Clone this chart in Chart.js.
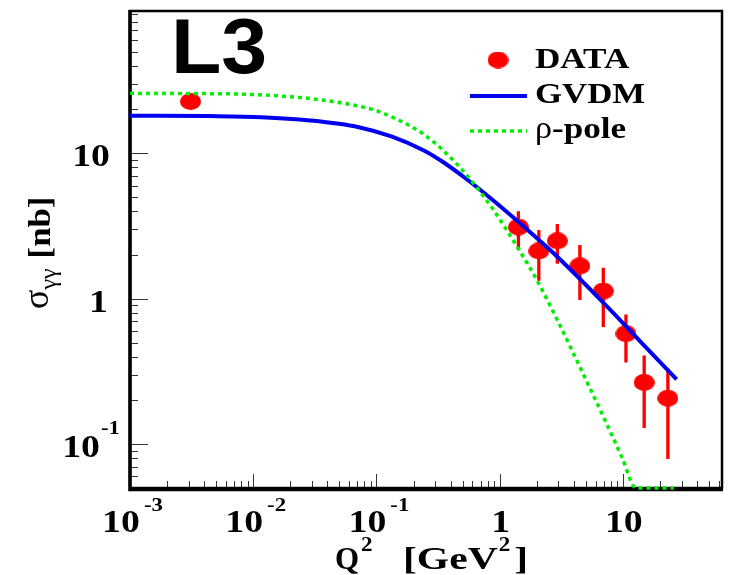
<!DOCTYPE html>
<html>
<head>
<meta charset="utf-8">
<script src="https://cdn.jsdelivr.net/npm/chart.js@4.4.1/dist/chart.umd.min.js"></script>
<style>
html, body { margin: 0; padding: 0; background: #fff; }
</style>
</head>
<body>
<canvas id="chart" width="734" height="575"></canvas>
<script>
// measured points (Q2 in GeV^2, sigma in nb)
var dataQ2 = [0.0031, 1.42, 2.08, 2.94, 4.48, 6.94, 10.6, 14.9, 23.2];
var dataSigma = [22.7, 3.11, 2.13, 2.50, 1.68, 1.13, 0.575, 0.266, 0.207];
var dataErrLow = [22.2, 2.20, 1.33, 1.74, 0.98, 0.64, 0.365, 0.129, 0.079];
var dataErrHigh = [23.2, 4.00, 2.97, 3.26, 2.34, 1.63, 0.78, 0.407, 0.332];

// GVDM curve
var gvdmQ2 = [0.001, 0.0044, 0.0116, 0.0288, 0.0719, 0.134, 0.245, 0.347, 0.528, 0.864, 1.58, 2.73, 7.20, 13.4, 27.3];
var gvdmSigma = [18.1, 18.0, 17.7, 16.8, 15.1, 13.0, 10.4, 8.70, 6.73, 4.83, 3.12, 2.06, 0.910, 0.524, 0.279];

// rho-pole curve (runs along the frame bottom once it leaves the range)
var rhoQ2 = [0.001, 0.00634, 0.0158, 0.0394, 0.0982, 0.147, 0.186, 0.245, 0.347, 0.528, 0.864, 1.39, 2.00, 2.89, 3.94, 5.37, 7.20, 9.82, 12.8, 25.9];
var rhoSigma = [25.8, 25.6, 24.8, 23.0, 19.7, 17.1, 15.5, 13.4, 10.5, 7.24, 4.23, 2.27, 1.35, 0.735, 0.427, 0.246, 0.145, 0.0815, 0.05, 0.05];

var xTicks = [0.001, 0.01, 0.1, 1, 10];
var xTickLabels = ['10^-3', '10^-2', '10^-1', '1', '10'];
var yTicks = [0.1, 1, 10];
var yTickLabels = ['10^-1', '1', '10'];

var xMin = 0.001, xMax = 65;
var yMin = 0.05, yMax = 95;

var SERIF = '"Liberation Serif", "Times New Roman", serif';
var SANS = '"Liberation Sans", Arial, sans-serif';

function pts(xs, ys) {
    return xs.map(function (x, i) { return { x: x, y: ys[i] }; });
}

// elliptical marker like the original
var dot = document.createElement('canvas');
dot.width = 21;
dot.height = 17;
(function () {
    var c = dot.getContext('2d');
    c.fillStyle = '#ff0000';
    c.beginPath();
    c.ellipse(10.5, 8.5, 10.5, 8.5, 0, 0, Math.PI * 2);
    c.fill();
})();

function sText(ctx, str, x, y, font, sx, align) {
    ctx.save();
    ctx.font = font;
    var w = ctx.measureText(str).width * sx;
    var left = align === 'right' ? x - w : (align === 'center' ? x - w / 2 : x);
    ctx.translate(left, y);
    ctx.scale(sx, 1);
    ctx.textAlign = 'left';
    ctx.textBaseline = 'alphabetic';
    ctx.fillText(str, 0, 0);
    ctx.restore();
    return w;
}

function minorValues(min, max) {
    var out = [];
    for (var e = -4; e <= 2; e++) {
        for (var k = 2; k <= 9; k++) {
            var v = k * Math.pow(10, e);
            if (v >= min && v <= max) out.push(v);
        }
    }
    return out;
}

var framePlugin = {
    id: 'frame',
    beforeDatasetsDraw: function (chart) {
        var ctx = chart.ctx, a = chart.chartArea;
        var xs = chart.scales.x, ys = chart.scales.y;
        ctx.save();
        // ticks inside the frame
        ctx.strokeStyle = '#333';
        ctx.lineWidth = 1;
        ctx.beginPath();
        yTicks.forEach(function (v) {
            var p = Math.round(ys.getPixelForValue(v)) + 0.5;
            ctx.moveTo(a.left, p); ctx.lineTo(a.left + 18, p);
        });
        minorValues(yMin, yMax).forEach(function (v) {
            var p = Math.round(ys.getPixelForValue(v)) + 0.5;
            ctx.moveTo(a.left, p); ctx.lineTo(a.left + 8, p);
        });
        xTicks.forEach(function (v) {
            var p = Math.round(xs.getPixelForValue(v)) + 0.5;
            ctx.moveTo(p, a.bottom); ctx.lineTo(p, a.bottom - 14);
        });
        minorValues(xMin, xMax).forEach(function (v) {
            var p = Math.round(xs.getPixelForValue(v)) + 0.5;
            ctx.moveTo(p, a.bottom); ctx.lineTo(p, a.bottom - 7);
        });
        ctx.stroke();

        // frame
        ctx.strokeStyle = '#000';
        ctx.lineWidth = 2.5;
        ctx.strokeRect(a.left, a.top, a.right - a.left - 1, a.bottom - a.top);
        ctx.lineWidth = 3.5;
        ctx.beginPath();
        ctx.moveTo(a.left, a.top - 1); ctx.lineTo(a.left, a.bottom + 1.5);
        ctx.lineTo(a.right, a.bottom + 1.5);
        ctx.stroke();

        // error bars
        ctx.strokeStyle = '#ff0000';
        ctx.lineWidth = 3.3;
        ctx.beginPath();
        dataQ2.forEach(function (q, i) {
            var px = xs.getPixelForValue(q);
            ctx.moveTo(px, ys.getPixelForValue(dataErrHigh[i]));
            ctx.lineTo(px, ys.getPixelForValue(dataErrLow[i]));
        });
        ctx.stroke();
        ctx.restore();
    },
    afterDraw: function (chart) {
        var ctx = chart.ctx;
        var xs = chart.scales.x, ys = chart.scales.y;
        ctx.save();
        ctx.fillStyle = '#000';

        // x tick labels
        xTicks.forEach(function (v, i) {
            var parts = xTickLabels[i].split('^');
            var px = xs.getPixelForValue(v);
            if (parts.length > 1) {
                var w = sText(ctx, parts[0], px - 9, 532, 'bold 31px ' + SERIF, 1.22, 'center');
                sText(ctx, parts[1], px - 9 + w / 2 + 4, 511, 'bold 19px ' + SERIF, 1.2, 'left');
            } else {
                sText(ctx, parts[0], px + 1, 532, 'bold 31px ' + SERIF, 1.22, 'center');
            }
        });

        // y tick labels
        yTicks.forEach(function (v, i) {
            var parts = yTickLabels[i].split('^');
            var py = ys.getPixelForValue(v);
            if (parts.length > 1) {
                sText(ctx, parts[0], 100, py + 13, 'bold 31px ' + SERIF, 1.22, 'right');
                sText(ctx, parts[1], 101, py - 10, 'bold 19px ' + SERIF, 1.2, 'left');
            } else {
                sText(ctx, parts[0], parts[0].length > 1 ? 110 : 108, py + 13, 'bold 31px ' + SERIF, 1.22, 'right');
            }
        });

        // x title: Q^2 [GeV^2]
        sText(ctx, 'Q', 335, 569, 'bold 31px ' + SERIF, 1.0, 'left');
        sText(ctx, '2', 361, 551, 'bold 21px ' + SERIF, 1.1, 'left');
        var gw = sText(ctx, '[GeV', 403, 569, 'bold 32px ' + SERIF, 1.3, 'left');
        sText(ctx, '2', 403 + gw + 1, 551, 'bold 21px ' + SERIF, 1.1, 'left');
        sText(ctx, ']', 528, 569, 'bold 32px ' + SERIF, 1.3, 'right');

        // y title: sigma_gamma gamma [nb]
        ctx.save();
        ctx.translate(48, 309);
        ctx.rotate(-Math.PI / 2);
        var t = 0;
        t += sText(ctx, 'σ', t, 0, '36px ' + SERIF, 1.0, 'left');
        t += sText(ctx, 'γγ', t, 8, '24px ' + SERIF, 1.0, 'left') + 10;
        sText(ctx, '[nb]', t, 2, 'bold 31px ' + SERIF, 1.12, 'left');
        ctx.restore();

        // experiment tag
        sText(ctx, 'L3', 171, 73, 'bold 77px ' + SANS, 1.07, 'left');

        // legend
        var ds = chart.data.datasets;
        ctx.drawImage(dot, 498 - 10.5, 60 - 8.5);
        ctx.lineWidth = ds[1].borderWidth;
        ctx.strokeStyle = ds[1].borderColor;
        ctx.beginPath(); ctx.moveTo(470, 96); ctx.lineTo(527, 96); ctx.stroke();
        ctx.lineWidth = ds[2].borderWidth;
        ctx.strokeStyle = ds[2].borderColor;
        ctx.setLineDash(ds[2].borderDash);
        ctx.beginPath(); ctx.moveTo(470, 131); ctx.lineTo(527, 131); ctx.stroke();
        ctx.setLineDash([]);
        sText(ctx, ds[0].label, 535, 68, 'bold 30px ' + SERIF, 1.17, 'left');
        sText(ctx, ds[1].label, 535, 103, 'bold 30px ' + SERIF, 1.16, 'left');
        var lw = sText(ctx, ds[2].label.charAt(0), 535, 138, '31px ' + SERIF, 1.1, 'left');
        sText(ctx, ds[2].label.slice(1), 535 + lw, 138, 'bold 30px ' + SERIF, 1.17, 'left');
        ctx.restore();
    }
};

new Chart(document.getElementById('chart').getContext('2d'), {
    type: 'scatter',
    data: {
        datasets: [{
            label: 'DATA',
            data: pts(dataQ2, dataSigma),
            pointStyle: dot,
            pointRadius: 10,
            showLine: false,
            order: 2
        }, {
            label: 'GVDM',
            data: pts(gvdmQ2, gvdmSigma),
            showLine: true,
            borderColor: '#0000f0',
            borderWidth: 4,
            pointRadius: 0,
            cubicInterpolationMode: 'monotone',
            order: 1
        }, {
            label: 'ρ-pole',
            data: pts(rhoQ2, rhoSigma),
            showLine: true,
            borderColor: '#00ee00',
            borderWidth: 3.5,
            borderDash: [4, 4],
            pointRadius: 0,
            cubicInterpolationMode: 'monotone',
            clip: false,
            order: 0
        }]
    },
    options: {
        responsive: false,
        animation: false,
        layout: { padding: { top: 8, right: 1, left: 0, bottom: 0 } },
        plugins: {
            legend: { display: false },
            tooltip: { enabled: false }
        },
        scales: {
            x: {
                type: 'logarithmic',
                min: xMin,
                max: xMax,
                ticks: { display: false },
                grid: { display: false },
                border: { display: false },
                afterFit: function (s) { s.height = 87; }
            },
            y: {
                type: 'logarithmic',
                min: yMin,
                max: yMax,
                ticks: { display: false },
                grid: { display: false },
                border: { display: false },
                afterFit: function (s) { s.width = 130; }
            }
        }
    },
    plugins: [framePlugin]
});
</script>
</body>
</html>
